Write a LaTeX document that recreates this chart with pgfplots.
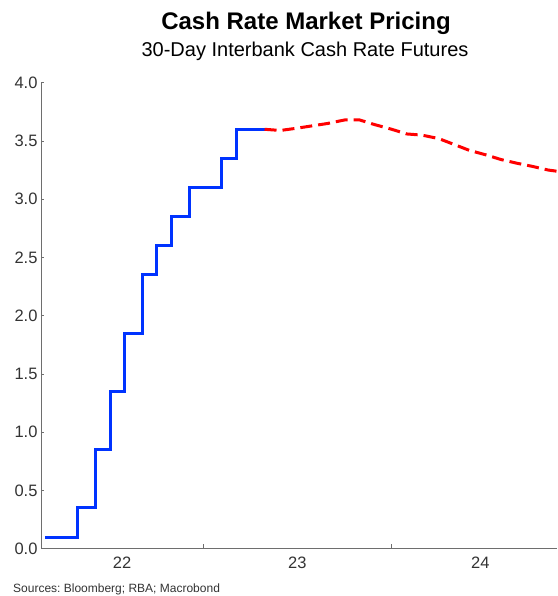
\documentclass[border=0pt]{standalone}
\usepackage{pgfplots}
\pgfplotsset{compat=1.18}
\usepackage{fontspec}
\setmainfont{Liberation Sans}
\frenchspacing
\definecolor{cblue}{RGB}{0,51,255}
\definecolor{cred}{RGB}{255,0,0}
\definecolor{axgray}{RGB}{110,110,110}
\begin{document}
\begin{tikzpicture}
\path[use as bounding box] (0pt,0pt) rectangle (557pt,596pt);
\begin{axis}[
  at={(41pt,47.3pt)}, anchor=south west,
  scale only axis, width=516pt, height=466pt,
  xmin=2022.141, xmax=2024.876, ymin=0, ymax=4,
  axis x line*=bottom, axis y line*=left,
  axis line style={axgray, line width=1pt},
  ytick={0,0.5,1,1.5,2,2.5,3,3.5,4},
  yticklabel style={/pgf/number format/.cd, fixed, fixed zerofill, precision=1},
  /pgf/number format/assume math mode=true,
  xtick={2022.571,2023.5,2024.47}, xticklabels={22,23,24},
  major x tick style={draw=none},
  minor xtick={2023,2024},
  tick style={axgray, line width=0.8pt},
  tick align=inside, major tick length=3pt, minor tick length=4.5pt,
  ticklabel style={font=\fontsize{16.5}{19}\selectfont, text=black!80},
  xticklabel style={yshift=-5pt},
  clip=false,
]
\addplot[cblue, line width=3pt, const plot, line join=miter] coordinates {
(2022.163,0.10) (2022.336,0.35) (2022.430,0.85) (2022.507,1.35)
(2022.583,1.85) (2022.681,2.35) (2022.754,2.60) (2022.833,2.85)
(2022.928,3.10) (2023.100,3.35) (2023.177,3.60) (2023.326,3.60)
};
\addplot[cred, line width=3pt, dash pattern=on 12pt off 6pt] coordinates {
(2023.326,3.60) (2023.41,3.59) (2023.50,3.61) (2023.58,3.63)
(2023.66,3.65) (2023.75,3.68) (2023.83,3.68) (2023.91,3.64)
(2024.00,3.60) (2024.08,3.56) (2024.16,3.55) (2024.25,3.52)
(2024.33,3.47) (2024.41,3.42) (2024.50,3.38) (2024.58,3.34)
(2024.66,3.31) (2024.75,3.28) (2024.83,3.25) (2024.876,3.24)
};
\end{axis}
\node[anchor=base, font=\bfseries\fontsize{24}{28}\selectfont] at (306pt,566pt) {Cash Rate Market Pricing};
\node[anchor=base, font=\fontsize{20}{24}\selectfont] at (305pt,539pt) {30-Day Interbank Cash Rate Futures};
\node[anchor=base west, inner sep=0pt, font=\fontsize{12}{14}\selectfont, text=black!80] at (13pt,4pt) {Sources: Bloomberg; RBA; Macrobond};
\end{tikzpicture}
\end{document}
